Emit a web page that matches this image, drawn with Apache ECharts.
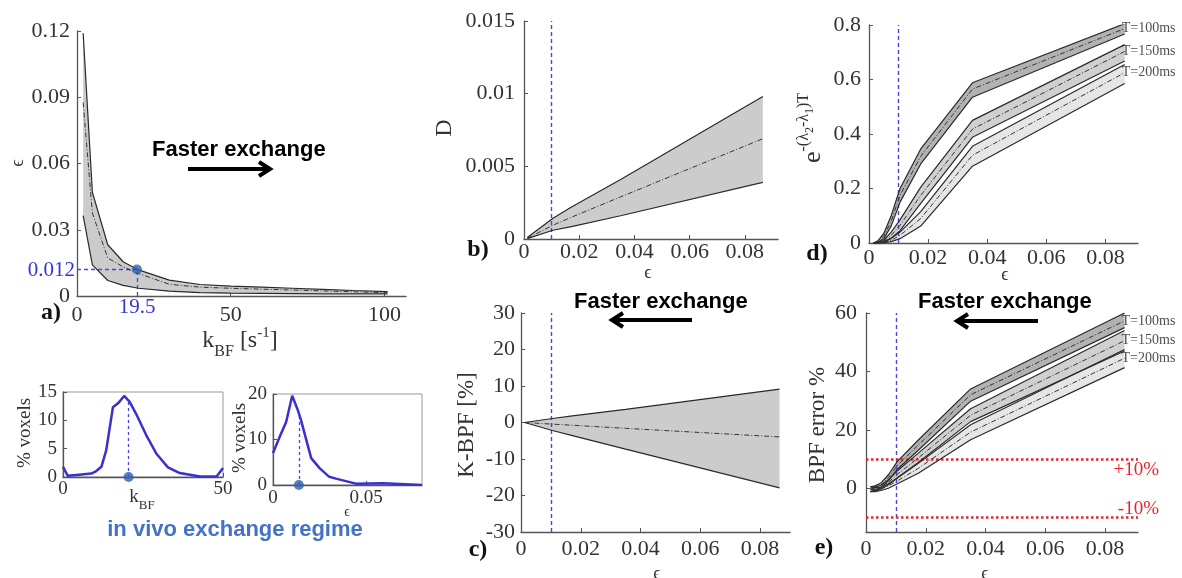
<!DOCTYPE html>
<html><head><meta charset="utf-8">
<script src="https://cdn.jsdelivr.net/npm/echarts@6/dist/echarts.min.js"></script>
<style>html,body{margin:0;padding:0;background:#fff}#c{width:1182px;height:578px}</style>
</head><body><div id="c"></div>
<script>
// ---------- DATA ----------
// panel a: epsilon vs kBF
const kBF      = [2, 5, 10, 15, 20, 30, 40, 50, 60, 70, 80, 90, 101];
const epsUpper = [0.119, 0.047, 0.0232, 0.0155, 0.0118, 0.0072, 0.0052, 0.0045, 0.0040, 0.0035, 0.0030, 0.0025, 0.0020];
const epsMid   = [0.0876, 0.0376, 0.0172, 0.0132, 0.0102, 0.0053, 0.0040, 0.0035, 0.0031, 0.0027, 0.0023, 0.0019, 0.0015];
const epsLower = [0.0364, 0.0141, 0.0070, 0.0048, 0.0035, 0.0022, 0.0015, 0.0013, 0.0012, 0.0011, 0.0010, 0.0010, 0.0010];
const markK = 19.5, markEps = 0.012;
// histograms
const histK     = [0, 1.5, 5, 8.8, 10.3, 12, 13.5, 15.6, 17.2, 19.1, 20.8, 22.8, 26, 29.2, 32.8, 36.5, 42.8, 48, 50];
const histKPct  = [1.8, 0.2, 0.4, 0.6, 1.0, 1.8, 4.7, 12.3, 13.0, 14.3, 13.3, 11.2, 7.4, 4.1, 1.7, 0.7, 0.1, 0.1, 1.6];
const histKMark = [20.5, 13.3];
const histEps    = [0, 0.0036, 0.0071, 0.0103, 0.0133, 0.015, 0.0205, 0.025, 0.0302, 0.0338, 0.0445, 0.059, 0.08];
const histEpsPct = [7.0, 10.6, 13.9, 19.6, 16.5, 14.3, 5.9, 3.7, 1.8, 1.4, 0.3, 0.4, 0];
const histEpsMark = [0.0139, 15.9];
// panels b, c
const epsBC    = [0.0012, 0.0105, 0.0172, 0.035, 0.0865];
const dUpper   = [0.0001, 0.00143, 0.0022, 0.0041, 0.0098];
const dMid     = [0.00005, 0.00095, 0.0015, 0.0029, 0.0069];
const dLower   = [0.00003, 0.0006, 0.00085, 0.0016, 0.0039];
const kbpfUpper = [0, 1.1, 1.8, 3.6, 9.15];
const kbpfMid   = [0, -0.45, -0.75, -1.6, -3.95];
const kbpfLower = [0, -2.2, -3.6, -7.3, -17.9];
// panels d, e
const epsDE = [0.0015, 0.003, 0.005, 0.0075, 0.0105, 0.0175, 0.035, 0.0865];
const dT100Up  = [0, 0.008, 0.035, 0.10, 0.20, 0.345, 0.588, 0.805];
const dT100Mid = [0, 0.005, 0.025, 0.08, 0.175, 0.318, 0.565, 0.787];
const dT100Lo  = [0, 0.003, 0.016, 0.062, 0.15, 0.29, 0.535, 0.767];
const dT150Up  = [0, 0.002, 0.01, 0.04, 0.085, 0.205, 0.45, 0.728];
const dT150Mid = [0, 0.001, 0.006, 0.028, 0.065, 0.175, 0.418, 0.703];
const dT150Lo  = [0, 0, 0.003, 0.018, 0.045, 0.145, 0.388, 0.668];
const dT200Up  = [0, 0, 0.004, 0.016, 0.04, 0.115, 0.355, 0.655];
const dT200Mid = [0, 0, 0.002, 0.01, 0.028, 0.09, 0.322, 0.625];
const dT200Lo  = [0, 0, 0.001, 0.005, 0.016, 0.062, 0.282, 0.585];
const eT100Up  = [0.5, 0.8, 1.8, 4.6, 9.2, 16.5, 34, 60];
const eT100Mid = [-0.3, 0.1, 1.0, 3.6, 7.8, 14.8, 32, 57.3];
const eT100Lo  = [-1.2, -0.6, 0.2, 2.6, 6.5, 13, 29.8, 55];
const eT150Up  = [0.5, 0.4, 1.0, 2.8, 6, 12, 27.2, 54];
const eT150Mid = [-0.3, -0.4, 0.3, 2.0, 4.8, 10.4, 25, 50.5];
const eT150Lo  = [-1.2, -1.0, -0.3, 1.2, 3.6, 8.8, 22.8, 47];
const eT200Up  = [0.5, 0.2, 0.3, 1.5, 3.5, 8.5, 21.7, 47.5];
const eT200Mid = [-0.3, -0.6, -0.2, 0.8, 2.5, 6.8, 19.2, 44.5];
const eT200Lo  = [-1.2, -1.2, -0.8, 0, 1.5, 5.1, 16.6, 41.3];
const tLabels = ['T=100ms', 'T=150ms', 'T=200ms'];
const limits = [10, -10];
const limitLabels = ['+10%', '-10%'];
const vLine = 0.012;
// tick labels
const ticksAX = [0, 50, 100], ticksAY = [0, 0.03, 0.06, 0.09, 0.12];
const ticksH1X = [0, 50], ticksH1Y = [0, 5, 10, 15];
const ticksH2X = [0, 0.05], ticksH2Y = [0, 10, 20];
const ticksEps = [0, 0.02, 0.04, 0.06, 0.08];
const ticksBY = [0, 0.005, 0.01, 0.015];
const ticksCY = [-30, -20, -10, 0, 10, 20, 30];
const ticksDY = [0, 0.2, 0.4, 0.6, 0.8];
const ticksEY = [0, 20, 40, 60];

// ---------- STYLE ----------
const SERIF = "'Liberation Serif','DejaVu Serif',serif";
const SANS = "'Liberation Sans',Arial,sans-serif";
const EDGE = '#2a2a2a', MIDC = '#333';
const BLUE = '#4a45de', HIST = '#3b30cf', DOT = '#2f5fae', RED = '#e8262a';
const A=0,H1=1,H2=2,B=3,C=4,D=5,E=6;

function vAxis(gi, min, max, ticks, o) {
  return {gridIndex: gi, type: 'value', min: min, max: max,
    axisLine: {show: true, onZero: false, lineStyle: {color: '#555', width: 1.3}},
    axisTick: {show: true, inside: true, length: 4, customValues: ticks, lineStyle: {color: '#555'}},
    axisLabel: {customValues: ticks, fontFamily: SERIF, fontSize: o.fs || 22, color: '#333', margin: o.m},
    splitLine: {show: false}};
}
function pairs(xs, ys) { return xs.map((x, i) => [x, ys[i]]); }
function band(gi, xs, lo, hi, color, z) {
  return {type: 'custom', xAxisIndex: gi, yAxisIndex: gi, silent: true, z: z,
    data: [[xs[0], lo[0]]],
    renderItem: function (params, api) {
      const pts = [];
      for (let i = 0; i < xs.length; i++) pts.push(api.coord([xs[i], hi[i]]));
      for (let i = xs.length - 1; i >= 0; i--) pts.push(api.coord([xs[i], lo[i]]));
      return {type: 'polygon', shape: {points: pts}, style: {fill: color}};
    }};
}
function line(gi, xs, ys, mid, extra) {
  return Object.assign({type: 'line', xAxisIndex: gi, yAxisIndex: gi, data: pairs(xs, ys),
    showSymbol: false, silent: true, z: 5,
    lineStyle: mid ? {color: MIDC, width: 1, type: [5, 2, 1, 2]} : {color: EDGE, width: 1.2}}, extra || {});
}
function vDash(gi) {
  return {type: 'line', xAxisIndex: gi, yAxisIndex: gi, data: [], z: 6,
    markLine: {symbol: 'none', silent: true, animation: false, label: {show: false},
      lineStyle: {color: BLUE, width: 1.4, type: [4, 3]}, data: [{xAxis: vLine}]}};
}
function endLabel(gi, x, y, text) {
  return {type: 'scatter', xAxisIndex: gi, yAxisIndex: gi, data: [[x, y]], symbolSize: 0, clip: false, z: 7,
    label: {show: true, position: 'right', distance: 0, offset: [-3, 0], formatter: text,
      fontFamily: SERIF, fontSize: 14, color: '#222'}};
}

const series = [];
// panel a
series.push(band(A, kBF, epsLower, epsUpper, '#cbcbcb', 1));
series.push(line(A, kBF, epsUpper, false), line(A, kBF, epsLower, false));
series.push(line(A, kBF, epsMid, true, {
  markLine: {symbol: 'none', silent: true, animation: false, label: {show: false},
    lineStyle: {color: BLUE, width: 1.3, type: [4, 3]},
    data: [[{coord: [0, markEps]}, {coord: [markK, markEps]}], [{coord: [markK, 0]}, {coord: [markK, markEps]}]]}}));
series.push({type: 'scatter', xAxisIndex: A, yAxisIndex: A, data: [[markK, markEps]], symbolSize: 10,
  itemStyle: {color: DOT}, z: 8, clip: false});
// histograms
series.push({type: 'line', xAxisIndex: H1, yAxisIndex: H1, data: pairs(histK, histKPct), showSymbol: false,
  lineStyle: {color: HIST, width: 2.5}, z: 5,
  markLine: {symbol: 'none', silent: true, animation: false, label: {show: false},
    lineStyle: {color: BLUE, width: 1.3, type: [3, 3]},
    data: [[{coord: [histKMark[0], 0]}, {coord: histKMark}]]}});
series.push({type: 'scatter', xAxisIndex: H1, yAxisIndex: H1, data: [[histKMark[0], 0]], symbolSize: 10,
  itemStyle: {color: DOT}, z: 8, clip: false});
series.push({type: 'line', xAxisIndex: H2, yAxisIndex: H2, data: pairs(histEps, histEpsPct), showSymbol: false,
  lineStyle: {color: HIST, width: 2.5}, z: 5,
  markLine: {symbol: 'none', silent: true, animation: false, label: {show: false},
    lineStyle: {color: BLUE, width: 1.3, type: [3, 3]},
    data: [[{coord: [histEpsMark[0], 0]}, {coord: histEpsMark}]]}});
series.push({type: 'scatter', xAxisIndex: H2, yAxisIndex: H2, data: [[histEpsMark[0], 0]], symbolSize: 10,
  itemStyle: {color: DOT}, z: 8, clip: false});
// panel b
series.push(band(B, epsBC, dLower, dUpper, '#cccccc', 1));
series.push(line(B, epsBC, dUpper, false), line(B, epsBC, dLower, false), line(B, epsBC, dMid, true), vDash(B));
// panel c
series.push(band(C, epsBC, kbpfLower, kbpfUpper, '#cccccc', 1));
series.push(line(C, epsBC, kbpfUpper, false), line(C, epsBC, kbpfLower, false), line(C, epsBC, kbpfMid, true), vDash(C));
// panels d, e
const bandCols = ['#b2b2b2', '#d0d0d0', '#e6e6e6'];
const dSets = [[dT100Lo, dT100Mid, dT100Up], [dT150Lo, dT150Mid, dT150Up], [dT200Lo, dT200Mid, dT200Up]];
const eSets = [[eT100Lo, eT100Mid, eT100Up], [eT150Lo, eT150Mid, eT150Up], [eT200Lo, eT200Mid, eT200Up]];
[[D, dSets], [E, eSets]].forEach(([gi, sets]) => {
  for (let k = 2; k >= 0; k--) series.push(band(gi, epsDE, sets[k][0], sets[k][2], bandCols[k], 1 + (2 - k) * 0.1));
  for (let k = 2; k >= 0; k--) {
    series.push(line(gi, epsDE, sets[k][2], false), line(gi, epsDE, sets[k][0], false), line(gi, epsDE, sets[k][1], true));
    const n = epsDE.length - 1;
    series.push(endLabel(gi, epsDE[n], sets[k][1][n], tLabels[k]));
  }
  series.push(vDash(gi));
});
series.push({type: 'line', xAxisIndex: E, yAxisIndex: E, data: [], z: 6,
  markLine: {symbol: 'none', silent: true, animation: false, label: {show: false},
    lineStyle: {color: RED, width: 2.5, type: 'dotted'}, data: limits.map(v => ({yAxis: v}))}});

// ---------- TEXT ----------
function txt(x, y, text, o) {
  return {type: 'text', x: x, y: y, rotation: o.rot || 0, silent: true, z: 50,
    style: {text: text, fontFamily: o.ff || SERIF, fontSize: o.fs || 22, fontWeight: o.fw || 'normal',
      fill: o.color || '#333', align: o.align || 'center', textAlign: o.align || 'center',
      verticalAlign: o.va || 'middle', textVerticalAlign: o.va || 'middle', rich: o.rich}};
}
// rich token: center placed at top + h/2 of the line
function tok(fs, h) {
  return {fontFamily: SERIF, fontSize: fs, height: h, lineHeight: h, verticalAlign: 'top', fill: '#333', color: '#333'};
}
const R90 = Math.PI / 2;
const g = [];
// panel letters
[['a)', 51, 313], ['b)', 478, 250], ['c)', 478, 550], ['d)', 817, 254], ['e)', 824, 548]].forEach(p =>
  g.push(txt(p[1], p[2], p[0], {fw: 'bold', fs: 24, color: '#111'})));
// panel a labels
g.push(txt(18, 163, 'ϵ', {rot: R90, fs: 18}));
g.push(txt(240, 329, '{k|k}{sub|BF}{t| [s}{sup|-1}{t|]}', {va: 'top', rich: {
  k: tok(24, 24), t: tok(24, 24), sub: tok(16, 45), sup: tok(15, 9)}}));
g.push(txt(75, 270, '0.012', {align: 'right', fs: 21, color: '#3535d5'}));
g.push(txt(137, 307, '19.5', {fs: 21, color: '#3535d5'}));
g.push(txt(152, 150, 'Faster exchange', {ff: SANS, fw: 'bold', fs: 22, color: '#000', align: 'left'}));
g.push(txt(574, 302, 'Faster exchange', {ff: SANS, fw: 'bold', fs: 22, color: '#000', align: 'left'}));
g.push(txt(918, 302, 'Faster exchange', {ff: SANS, fw: 'bold', fs: 22, color: '#000', align: 'left'}));
// arrows
function arrow(x1, x2, y) {
  const dir = x2 > x1 ? 1 : -1;
  g.push({type: 'line', silent: true, z: 50, shape: {x1: x1, y1: y, x2: x2 - dir * 2, y2: y}, style: {stroke: '#000', lineWidth: 4}});
  g.push({type: 'polyline', silent: true, z: 50, shape: {points: [[x2 - dir * 11, y - 7], [x2, y], [x2 - dir * 11, y + 7]]},
    style: {stroke: '#000', lineWidth: 4, fill: null, lineJoin: 'miter'}});
}
arrow(188, 270, 169);
arrow(692, 612, 320);
arrow(1038, 957, 321);
// histogram labels
g.push(txt(25, 433, '% voxels', {rot: R90, fs: 19}));
g.push(txt(240, 438, '% voxels', {rot: R90, fs: 19}));
g.push(txt(142, 488, '{k|k}{sub|BF}', {va: 'top', rich: {k: tok(19, 19), sub: tok(13, 36)}}));
g.push(txt(347, 512, 'ϵ', {fs: 14}));
g.push(txt(235, 530, 'in vivo exchange regime', {ff: SANS, fw: 'bold', fs: 22, color: '#4472c4'}));
// b-e axis names
g.push(txt(445, 128, 'D', {rot: R90, fs: 24}));
g.push(txt(648, 273, 'ϵ', {fs: 18}));
g.push(txt(467, 425, 'K-BPF [%]', {rot: R90, fs: 23}));
g.push(txt(657, 574, 'ϵ', {fs: 18}));
g.push(txt(813, 128, '{e|e}{s|-(λ}{b|2}{s|-λ}{b|1}{s|)T}', {rot: R90, rich: {
  e: tok(26, 34), s: tok(16, 16), b: tok(12, 27)}}));
g.push(txt(1005, 275, 'ϵ', {fs: 18}));
g.push(txt(818, 425, 'BPF error %', {rot: R90, fs: 23}));
g.push(txt(985, 574, 'ϵ', {fs: 18}));
g.push(txt(1159, 470, limitLabels[0], {align: 'right', fs: 19, color: RED}));
g.push(txt(1159, 509, limitLabels[1], {align: 'right', fs: 19, color: RED}));

const gridBase = {outerBoundsMode: 'none', containLabel: false};
const option = {
  animation: false,
  backgroundColor: '#fff',
  grid: [
    Object.assign({left: 77, top: 31, width: 329, height: 265}, gridBase),
    Object.assign({left: 63, top: 392, width: 160, height: 85, show: true, borderColor: '#999', borderWidth: 1}, gridBase),
    Object.assign({left: 273, top: 394, width: 149, height: 91, show: true, borderColor: '#999', borderWidth: 1}, gridBase),
    Object.assign({left: 524, top: 21, width: 254, height: 218}, gridBase),
    Object.assign({left: 521, top: 313, width: 269, height: 219}, gridBase),
    Object.assign({left: 869, top: 25, width: 269, height: 218}, gridBase),
    Object.assign({left: 866, top: 313, width: 272, height: 219}, gridBase)
  ],
  xAxis: [
    vAxis(A, 0, 107, ticksAX, {m: 8}),
    vAxis(H1, 0, 50, ticksH1X, {fs: 19, m: 3}),
    vAxis(H2, 0, 0.08, ticksH2X, {fs: 19, m: 4}),
    vAxis(B, 0, 0.092, ticksEps, {m: 2}),
    vAxis(C, 0, 0.09, ticksEps, {m: 6}),
    vAxis(D, 0, 0.091, ticksEps, {m: 4}),
    vAxis(E, 0, 0.091, ticksEps, {m: 6})
  ],
  yAxis: [
    vAxis(A, 0, 0.12, ticksAY, {m: 7}),
    vAxis(H1, 0, 15, ticksH1Y, {fs: 19, m: 6}),
    vAxis(H2, 0, 20, ticksH2Y, {fs: 19, m: 6}),
    vAxis(B, 0, 0.015, ticksBY, {m: 9}),
    vAxis(C, -30, 30, ticksCY, {m: 6}),
    vAxis(D, 0, 0.8, ticksDY, {m: 8}),
    vAxis(E, -15, 60, ticksEY, {m: 9})
  ],
  series: series,
  graphic: {elements: g}
};
const chart = echarts.init(document.getElementById('c'), null, {renderer: 'canvas'});
chart.setOption(option);
</script></body></html>
